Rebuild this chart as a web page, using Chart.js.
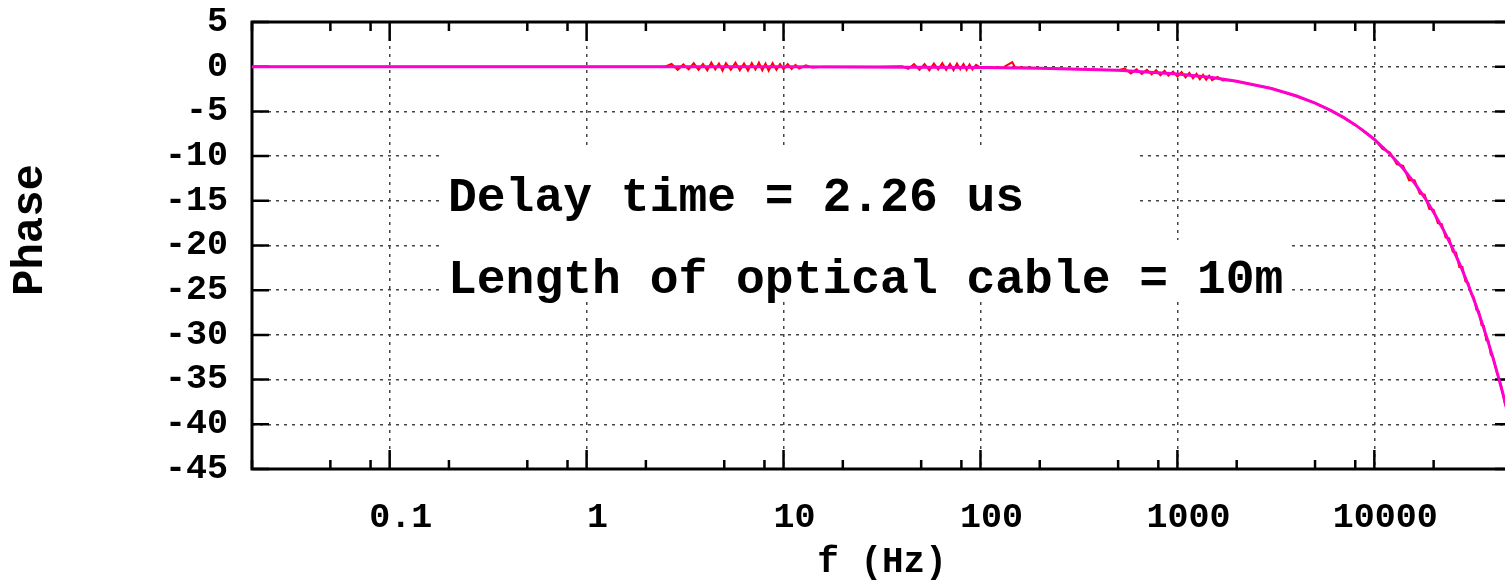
<!DOCTYPE html>
<html>
<head>
<meta charset="utf-8">
<script src="https://cdn.jsdelivr.net/npm/chart.js@4.4.1/dist/chart.umd.min.js"></script>
<style>
  html, body { margin: 0; padding: 0; background: #fff; overflow: hidden; }
  #myChart { display: block; }
</style>
</head>
<body>
<canvas id="myChart" width="1520" height="582"></canvas>
<script>
var MONO = '"Courier New", "Nimbus Mono PS", FreeMono, "Liberation Mono", monospace';

// measured data (red)
var redF = [0.02, 0.1, 1, 2.5, 2.7, 2.9, 3.1, 3.3, 3.5, 3.7, 3.9, 4.1, 4.3, 4.5, 4.7, 4.9, 5.1, 5.4, 5.7, 6.0, 6.3,
  6.6, 6.9, 7.2, 7.5, 7.8, 8.1, 8.4, 8.8, 9.2, 9.6, 10, 10.5, 11, 11.5, 12, 13, 14, 16, 30,
  40, 43, 46, 49, 52, 55, 58, 61, 64, 67, 70, 73, 76, 79, 82, 85, 88, 91, 95, 100, 130, 145, 150, 155,
  200, 300, 400, 500, 540, 580, 620, 660, 700, 740, 780, 820, 860, 900, 950, 1000, 1050, 1100, 1150,
  1200, 1250, 1300, 1350, 1400, 1450, 1500, 1600, 1700, 1800,
  2000, 3000, 4000, 5000, 6000, 7000, 8000, 9000, 10000, 11000, 12000, 13000, 14000, 15000, 16000,
  17000, 18000, 19000, 20000, 21000, 22000, 23000, 24000, 25000, 26000, 27000, 28000, 29000, 30000,
  31000, 32000, 33000, 34000, 35000, 36000, 37000, 38000, 39000, 40000, 42000, 44000, 46000, 48000, 50000];
var redPhase = [0, 0, 0, 0, 0.3, -0.35, 0.25, -0.3, 0.4, -0.35, 0.3, -0.4, 0.45, -0.3, 0.35, -0.45, 0.4, -0.35, 0.45, -0.4, 0.35,
  -0.45, 0.4, -0.3, 0.45, -0.4, 0.35, -0.45, 0.4, -0.35, 0.3, -0.3, 0.3, -0.25, 0.2, -0.2, 0.15, -0.1, 0, 0,
  0.05, -0.25, 0.3, -0.35, 0.3, -0.4, 0.35, -0.3, 0.4, -0.35, 0.3, -0.4, 0.35, -0.3, 0.3, -0.35, 0.25, -0.3, 0.2, -0.1, -0.1, 0.5, -0.1, -0.1,
  -0.15, -0.25, -0.35, -0.4, -0.2, -0.75, -0.3, -0.8, -0.35, -0.85, -0.4, -0.95, -0.45, -1.0, -0.55, -1.1, -0.6, -1.2, -0.7,
  -1.3, -0.8, -1.4, -0.9, -1.45, -1.0, -1.5, -1.15, -1.55, -1.5,
  -1.65, -2.4, -3.3, -4.05, -4.9, -5.7, -6.5, -7.4, -8.1, -9.2, -9.6, -10.9, -11.1, -12.7, -12.7,
  -14.2, -14.3, -15.9, -16.0, -17.5, -17.6, -19.1, -19.2, -20.7, -20.8, -22.4, -22.4, -24.0, -24.2,
  -25.4, -25.8, -27.2, -27.4, -28.9, -29.0, -30.6, -30.7, -32.2, -32.4, -34.3, -35.6, -37.7, -38.9, -40.7];

// fitted curve (magenta)
var fitF = [0.02, 0.1, 1, 10, 100, 200, 500, 1000, 1500, 2000, 3000, 4000, 5000, 6000, 7000, 8000, 9000, 10000,
  12000, 14000, 16000, 18000, 20000, 22500, 25000, 27500, 30000, 32500, 35000, 37500, 40000, 42500,
  45000, 47500, 50000];
var fitPhase = [0, 0, 0, -0.01, -0.08, -0.16, -0.41, -0.81, -1.22, -1.63, -2.44, -3.25, -4.07, -4.88, -5.7, -6.51, -7.32, -8.14,
  -9.76, -11.39, -13.02, -14.64, -16.27, -18.31, -20.34, -22.37, -24.41, -26.44, -28.48, -30.51, -32.54, -34.58,
  -36.61, -38.65, -40.68];

// axes
var xTickValues = [0.02, 0.05, 0.08, 0.1, 0.2, 0.5, 0.8, 1, 2, 5, 8, 10, 20, 50, 80, 100, 200, 500, 800,
  1000, 2000, 5000, 8000, 10000, 20000, 50000];
var xMajor = [0.1, 1, 10, 100, 1000, 10000];
var xMajorLabels = ['0.1', '1', '10', '100', '1000', '10000'];
var yTicks = [5, 0, -5, -10, -15, -20, -25, -30, -35, -40, -45];

var labelLines = ['Delay time = 2.26 us', 'Length of optical cable = 10m'];
var yTitle = 'Phase';
var xTitle = 'f (Hz)';

function toPoints(xs, ys) {
  return xs.map(function (x, i) { return { x: x, y: ys[i] }; });
}

//=================== frame, inward ticks, labels ===================//
var gnuFrame = {
  id: 'gnuFrame',
  beforeDatasetsDraw: function (chart) {
    var c = chart.ctx, a = chart.chartArea;
    var sx = chart.scales.x, sy = chart.scales.y;
    c.save();
    // label boxes hide the grid
    c.fillStyle = '#fff';
    c.fillRect(440, 150, 695, 90);
    c.fillRect(440, 240, 852, 60);

    c.strokeStyle = '#000';
    c.lineWidth = 3;
    c.strokeRect(a.left, a.top, a.right - a.left, a.bottom - a.top);

    c.lineWidth = 2.5;
    c.beginPath();
    yTicks.forEach(function (v) {
      var py = sy.getPixelForValue(v);
      c.moveTo(a.left, py); c.lineTo(a.left + 17, py);
      c.moveTo(a.right, py); c.lineTo(a.right - 17, py);
    });
    xTickValues.forEach(function (v) {
      var px = sx.getPixelForValue(v);
      var len = xMajor.indexOf(v) >= 0 ? 19 : 9;
      c.moveTo(px, a.bottom); c.lineTo(px, a.bottom - len);
      c.moveTo(px, a.top); c.lineTo(px, a.top + len);
    });
    c.stroke();

    c.fillStyle = '#000';
    c.font = 'bold 48px ' + MONO;
    c.textAlign = 'left';
    c.textBaseline = 'alphabetic';
    c.fillText(labelLines[0], 448, 211);
    c.fillText(labelLines[1], 448, 293);

    c.translate(31, 230);
    c.rotate(-Math.PI / 2);
    c.font = 'bold 44px ' + MONO;
    c.textAlign = 'center';
    c.textBaseline = 'middle';
    c.fillText(yTitle, 0, 0);
    c.restore();
  }
};

var ctx = document.getElementById('myChart').getContext('2d');
new Chart(ctx, {
  type: 'line',
  data: {
    datasets: [{
      data: toPoints(fitF, fitPhase),
      borderColor: '#ff00cc',
      borderWidth: 3,
      pointRadius: 0,
      tension: 0,
      order: 0
    }, {
      data: toPoints(redF, redPhase),
      borderColor: '#ff0000',
      borderWidth: 2,
      pointRadius: 0,
      tension: 0,
      order: 1
    }]
  },
  options: {
    responsive: false,
    animation: false,
    events: [],
    layout: { padding: { left: 0, top: 22, right: 8, bottom: 0 } },
    plugins: {
      legend: { display: false },
      tooltip: { enabled: false }
    },
    scales: {
      x: {
        type: 'logarithmic',
        min: 0.02,
        max: 50000,
        afterBuildTicks: function (scale) {
          scale.ticks = xTickValues.map(function (v) { return { value: v }; });
        },
        afterFit: function (scale) {
          scale.height = 113;
          scale.paddingLeft = 0;
          scale.paddingRight = 0;
        },
        ticks: {
          autoSkip: false,
          maxRotation: 0,
          padding: 28,
          labelOffset: 11,
          color: '#000',
          font: { family: MONO, size: 35, weight: 'bold' },
          callback: function (value) {
            var i = xMajor.indexOf(value);
            return i >= 0 ? xMajorLabels[i] : '';
          }
        },
        grid: {
          drawTicks: false,
          lineWidth: 1.5,
          color: function (c) {
            return c.tick && xMajor.indexOf(c.tick.value) >= 0 ? '#444' : 'rgba(0,0,0,0)';
          }
        },
        border: { display: false, dash: [3, 5] },
        title: {
          display: true,
          text: xTitle,
          color: '#000',
          font: { family: MONO, size: 36, weight: 'bold', lineHeight: 1 },
          padding: { top: 0, bottom: 1 }
        }
      },
      y: {
        min: -45,
        max: 5,
        afterBuildTicks: function (scale) {
          scale.ticks = yTicks.map(function (v) { return { value: v }; });
        },
        afterFit: function (scale) {
          scale.width = 252;
          scale.paddingTop = 0;
          scale.paddingBottom = 0;
        },
        ticks: {
          autoSkip: false,
          padding: 24,
          color: '#000',
          font: { family: MONO, size: 35, weight: 'bold' },
          callback: function (value) { return String(value); }
        },
        grid: { drawTicks: false, lineWidth: 1.5, color: '#444' },
        border: { display: false, dash: [3, 5] }
      }
    }
  },
  plugins: [gnuFrame]
});
</script>
</body>
</html>
